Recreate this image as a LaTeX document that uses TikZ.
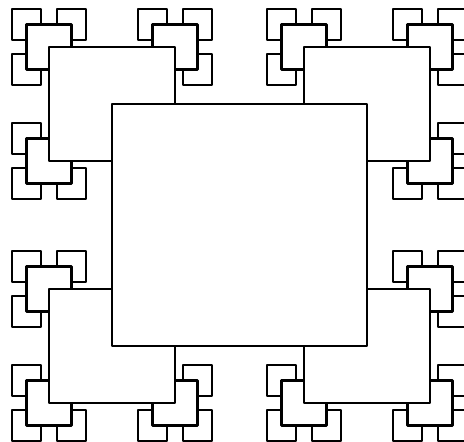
\documentclass[tikz,border=0pt]{standalone}
\begin{document}
\begin{tikzpicture}[x=1pt,y=-1pt]
\tikzset{sq/.style={draw=black, fill=white, line width=2.6pt, line join=round}}
\useasboundingbox[fill=white] (0,0) rectangle (464,442);
\def\cx{239.5}\def\cy{225}
\def\ax{127.5}\def\ay{121}
\def\bx{63}\def\by{57}
\def\ccx{22.5}\def\ccy{22.5}
\def\dx{14.5}\def\dy{15.5}
% level 3
\foreach \sx/\sy in {-1/-1,1/-1,-1/1,1/1}{
  \foreach \tx/\ty in {-1/-1,1/-1,-1/1,1/1}{
    \foreach \ux/\uy in {-1/-1,1/-1,-1/1,1/1}{
      \pgfmathtruncatemacro\skipA{abs(\tx+\sx)+abs(\ty+\sy)}
      \pgfmathtruncatemacro\skipB{abs(\ux+\tx)+abs(\uy+\ty)}
      \pgfmathsetmacro\px{\cx+(\sx)*\ax+(\tx)*\bx+(\ux)*\ccx}
      \pgfmathsetmacro\py{\cy+(\sy)*\ay+(\ty)*\by+(\uy)*\ccy}
      \ifnum\skipA>0 \ifnum\skipB>0
        \draw[sq] ({\px-\dx},{\py-\dy}) rectangle ({\px+\dx},{\py+\dy});
      \fi\fi
    }
  }
}
% level 2
\foreach \sx/\sy in {-1/-1,1/-1,-1/1,1/1}{
  \foreach \tx/\ty in {-1/-1,1/-1,-1/1,1/1}{
    \pgfmathtruncatemacro\skipA{abs(\tx+\sx)+abs(\ty+\sy)}
    \pgfmathsetmacro\px{\cx+(\sx)*\ax+(\tx)*\bx}
    \pgfmathsetmacro\py{\cy+(\sy)*\ay+(\ty)*\by}
    \ifnum\skipA>0
      \draw[sq] ({\px-\ccx},{\py-\ccy}) rectangle ({\px+\ccx},{\py+\ccy});
    \fi
  }
}
% level 1
\foreach \sx/\sy in {-1/-1,1/-1,-1/1,1/1}{
  \pgfmathsetmacro\px{\cx+(\sx)*\ax}
  \pgfmathsetmacro\py{\cy+(\sy)*\ay}
  \draw[sq] ({\px-\bx},{\py-\by}) rectangle ({\px+\bx},{\py+\by});
}
% level 0
\draw[sq] ({\cx-\ax},{\cy-\ay}) rectangle ({\cx+\ax},{\cy+\ay});
\end{tikzpicture}
\end{document}
